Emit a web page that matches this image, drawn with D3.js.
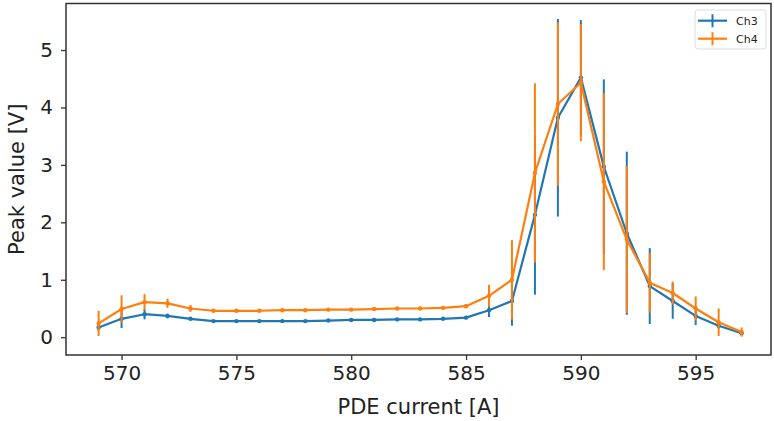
<!DOCTYPE html>
<html>
<head>
<meta charset="utf-8">
<script src="https://cdn.jsdelivr.net/npm/d3@7"></script>
<style>
  body { margin: 0; background: #fff; }
  svg { display: block; font-family: "DejaVu Sans", sans-serif; }
</style>
</head>
<body>
<svg></svg>
<script>
// PDE current steps
const current = [569, 570, 571, 572, 573, 574, 575, 576, 577, 578, 579, 580, 581, 582, 583,
                 584, 585, 586, 587, 588, 589, 590, 591, 592, 593, 594, 595, 596, 597];

const ch3 = [0.17, 0.32, 0.40, 0.37, 0.32, 0.28, 0.28, 0.28, 0.28, 0.28, 0.29, 0.30, 0.30, 0.31, 0.31,
             0.32, 0.34, 0.47, 0.63, 2.13, 3.82, 4.52, 2.97, 1.81, 0.89, 0.63, 0.37, 0.20, 0.07];
const ch3Err = [0.06, 0.16, 0.09, 0.04, 0.03, 0.02, 0.02, 0.02, 0.02, 0.02, 0.02, 0.02, 0.02, 0.02, 0.02,
                0.02, 0.02, 0.12, 0.43, 1.39, 1.72, 1.00, 1.52, 1.42, 0.66, 0.31, 0.16, 0.05, 0.04];

const ch4 = [0.24, 0.49, 0.61, 0.59, 0.50, 0.46, 0.46, 0.46, 0.47, 0.47, 0.48, 0.48, 0.49, 0.50, 0.50,
             0.51, 0.54, 0.72, 1.00, 2.86, 4.06, 4.43, 2.71, 1.70, 0.95, 0.77, 0.50, 0.26, 0.09];
const ch4Err = [0.22, 0.24, 0.14, 0.08, 0.06, 0.02, 0.02, 0.02, 0.02, 0.02, 0.02, 0.02, 0.02, 0.02, 0.02,
                0.02, 0.03, 0.19, 0.69, 1.56, 1.42, 1.02, 1.54, 1.28, 0.52, 0.20, 0.21, 0.24, 0.08];

const xTicks = [570, 575, 580, 585, 590, 595];
const yTicks = [0, 1, 2, 3, 4, 5];

const W = 774, H = 421;
const margins = {t: 3.5, r: 3, b: 66, l: 66};

const svg = d3.select('svg').attr('width', W).attr('height', H);

const scaleX = d3.scaleLinear()
    .domain([567.58, 598.28])
    .range([margins.l, W - margins.r]);

const scaleY = d3.scaleLinear()
    .domain([-0.31, 5.81])
    .range([H - margins.b, margins.t]);

const series = [
    {name: 'Ch3', values: ch3, err: ch3Err, color: '#1f77b4'},
    {name: 'Ch4', values: ch4, err: ch4Err, color: '#ff7f0e'}
];

const plot = svg.append('g');

var line = d3.line()
    .x(function(d) { return scaleX(d.x); })
    .y(function(d) { return scaleY(d.y); });

series.forEach(function(s) {
    const pts = current.map(function(x, i) { return {x: x, y: s.values[i], e: s.err[i]}; });
    const g = plot.append('g');

    g.selectAll('line.err')
        .data(pts)
        .enter().append('line')
        .attr('class', 'err')
        .attr('x1', d => scaleX(d.x))
        .attr('x2', d => scaleX(d.x))
        .attr('y1', d => scaleY(d.y - d.e))
        .attr('y2', d => scaleY(d.y + d.e))
        .attr('stroke', s.color)
        .attr('stroke-width', 2);

    g.append('path')
        .datum(pts)
        .attr('d', line)
        .attr('fill', 'none')
        .attr('stroke', s.color)
        .attr('stroke-width', 2.2)
        .attr('stroke-linejoin', 'round');

    g.selectAll('circle')
        .data(pts)
        .enter().append('circle')
        .attr('cx', d => scaleX(d.x))
        .attr('cy', d => scaleY(d.y))
        .attr('r', 2.2)
        .attr('fill', s.color);
});

// Axes
var xAxis = d3.axisBottom(scaleX)
    .tickValues(xTicks)
    .tickSize(5)
    .tickPadding(6)
    .tickFormat(d3.format('d'));

var yAxis = d3.axisLeft(scaleY)
    .tickValues(yTicks)
    .tickSize(5)
    .tickPadding(8)
    .tickFormat(d3.format('d'));

const xAxisG = svg.append('g')
    .attr('transform', `translate(0,${H - margins.b})`)
    .call(xAxis);
const yAxisG = svg.append('g')
    .attr('transform', `translate(${margins.l},0)`)
    .call(yAxis);

[xAxisG, yAxisG].forEach(function(a) {
    a.select('.domain').remove();
    a.selectAll('text').attr('font-size', 20).attr('fill', '#222').attr('font-family', '"DejaVu Sans", sans-serif');
    a.selectAll('line').attr('stroke', '#333').attr('stroke-width', 1.3);
});

// frame
svg.append('rect')
    .attr('x', margins.l)
    .attr('y', margins.t)
    .attr('width', W - margins.l - margins.r)
    .attr('height', H - margins.t - margins.b)
    .attr('fill', 'none')
    .attr('stroke', '#333')
    .attr('stroke-width', 1.5);

// Axis labels
svg.append('text')
    .attr('x', (margins.l + W - margins.r) / 2)
    .attr('y', 414)
    .attr('text-anchor', 'middle')
    .attr('font-size', 21)
    .attr('fill', '#222')
    .text('PDE current [A]');

svg.append('text')
    .attr('transform', `translate(24,${(margins.t + H - margins.b) / 2}) rotate(-90)`)
    .attr('text-anchor', 'middle')
    .attr('font-size', 21)
    .attr('fill', '#222')
    .text('Peak value [V]');

// Legend
const legend = svg.append('g').attr('transform', 'translate(695,10)');
legend.append('rect')
    .attr('width', 71)
    .attr('height', 39)
    .attr('rx', 3)
    .attr('fill', '#fff')
    .attr('fill-opacity', 0.8)
    .attr('stroke', '#ddd')
    .attr('stroke-width', 1);

series.forEach(function(s, i) {
    const y = 10.7 + i * 18;
    legend.append('line')
        .attr('x1', 3).attr('x2', 32)
        .attr('y1', y).attr('y2', y)
        .attr('stroke', s.color).attr('stroke-width', 2.2);
    legend.append('line')
        .attr('x1', 17.5).attr('x2', 17.5)
        .attr('y1', y - 6.5).attr('y2', y + 6.5)
        .attr('stroke', s.color).attr('stroke-width', 2);
    legend.append('text')
        .attr('x', 41)
        .attr('y', y + 4)
        .attr('font-size', 11)
        .attr('fill', '#222')
        .text(s.name);
});
</script>
</body>
</html>
